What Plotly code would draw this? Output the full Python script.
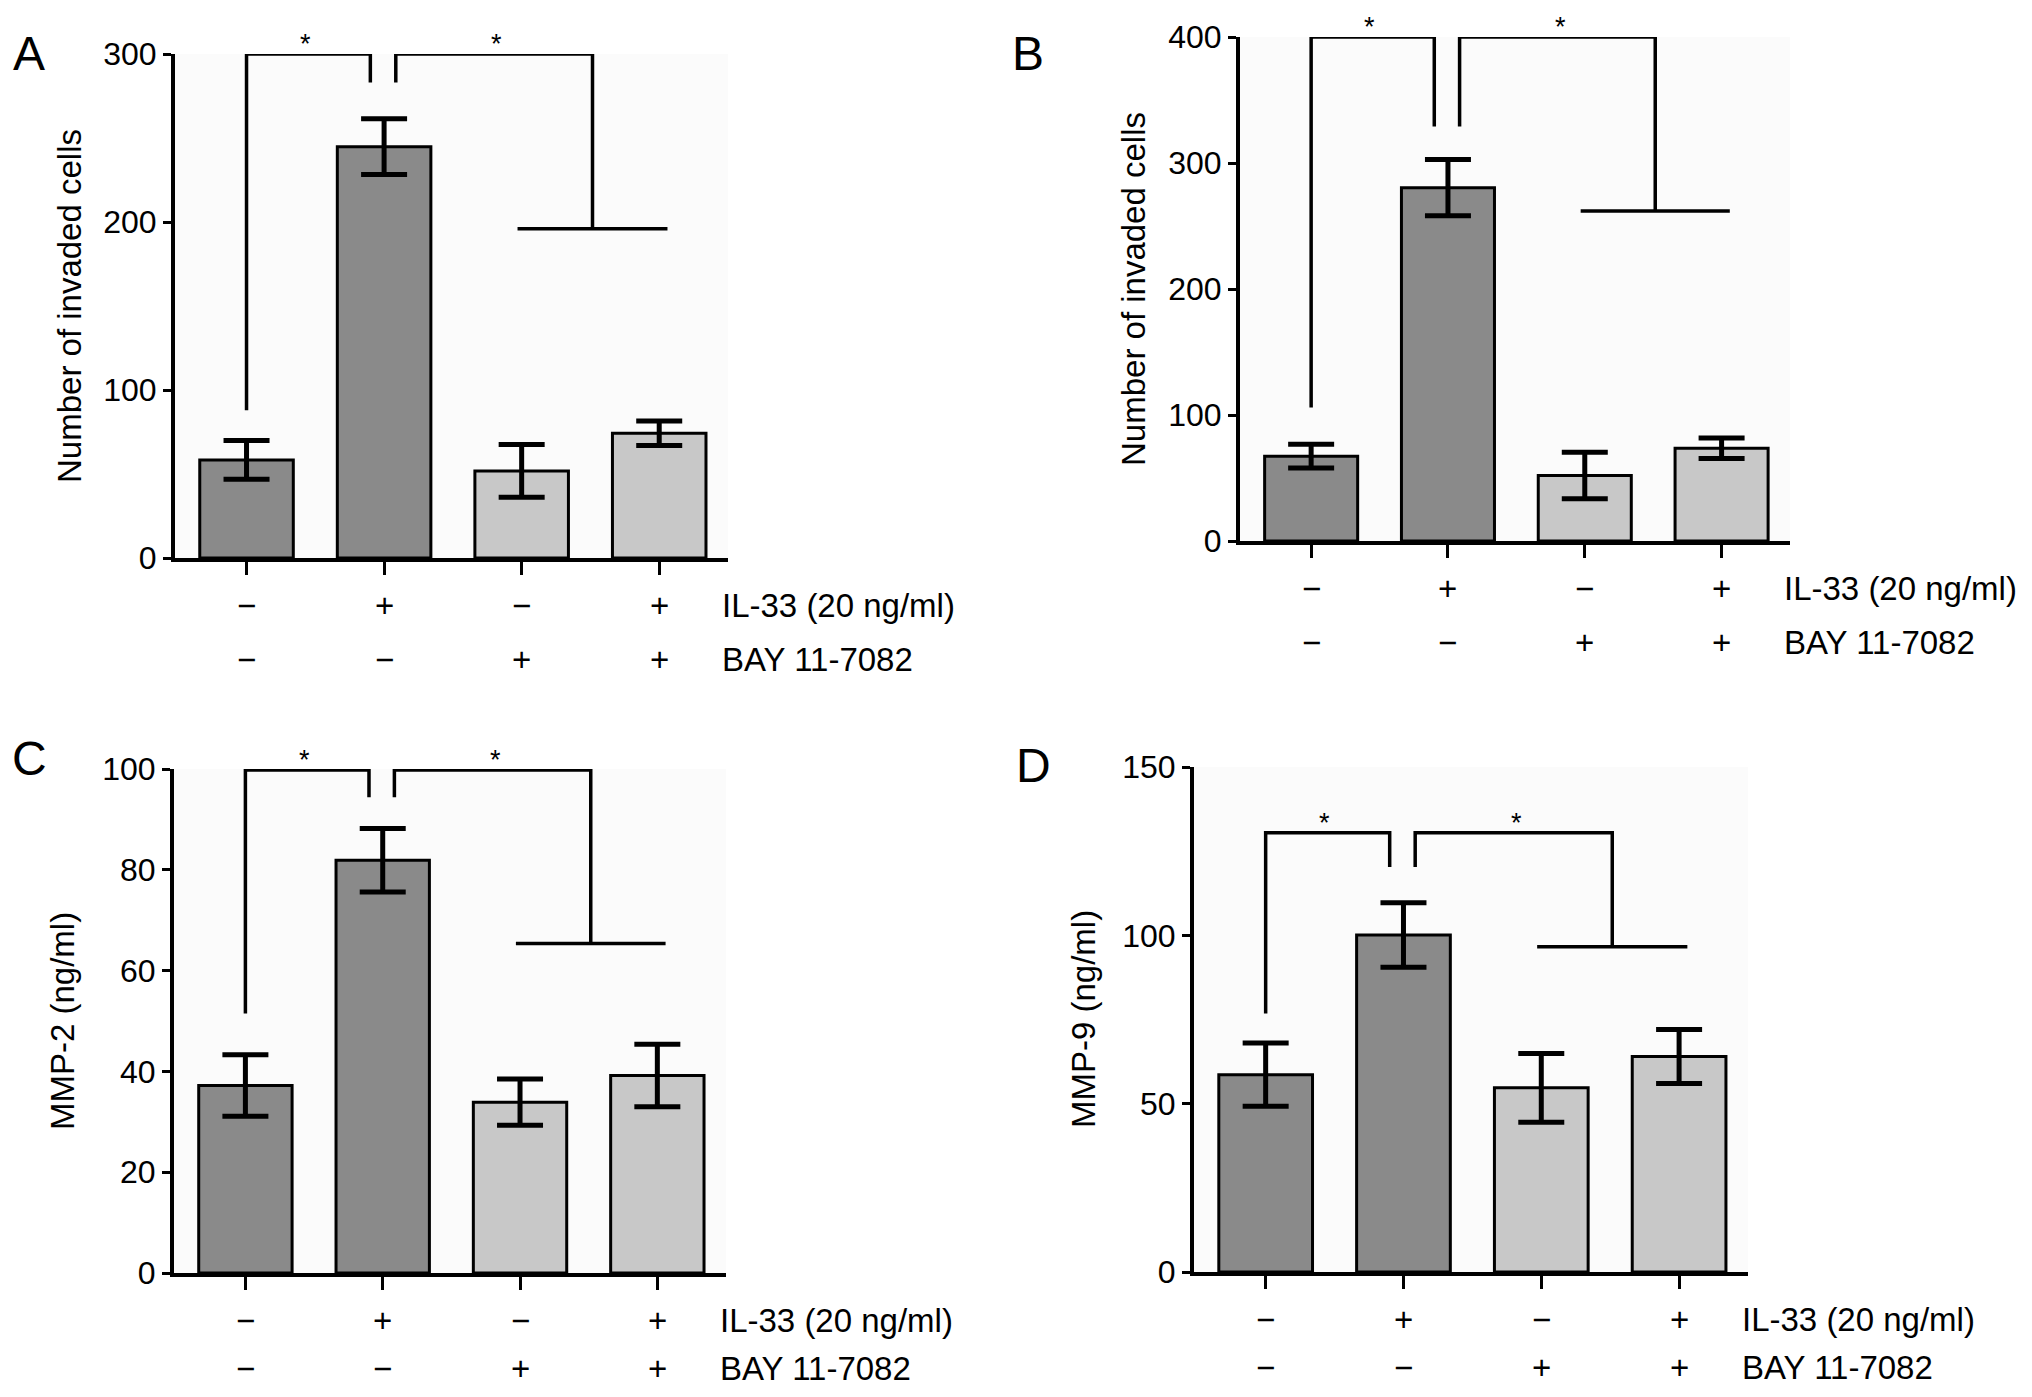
import plotly.graph_objects as go

# the page body adds an 8 px margin, so the figure is drawn 16 px smaller
PAGE = 8
W, H = 2032 - 2 * PAGE, 1397 - 2 * PAGE

x_pos = [1, 2, 3, 4]
il33_signs = ["−", "+", "−", "+"]
bay_signs = ["−", "−", "+", "+"]
row_labels = ["IL-33 (20 ng/ml)", "BAY 11-7082"]
bar_colors = ["#8a8a8a", "#8a8a8a", "#c8c8c8", "#c8c8c8"]

# A, B: invaded cells; C: MMP-2; D: MMP-9  (mean, error)
a_mean = [58.4, 244.8, 51.8, 74.3]
a_err = [11.5, 16.6, 15.7, 7.3]
b_mean = [67.3, 280.4, 52.0, 73.6]
b_err = [9.4, 22.3, 18.5, 8.1]
c_mean = [37.2, 81.9, 33.9, 39.2]
c_err = [6.1, 6.3, 4.6, 6.2]
d_mean = [58.6, 100.1, 54.7, 64.0]
d_err = [9.4, 9.6, 10.2, 8.0]

# significance brackets: top, left foot, inner feet, lower bar
a_bracket = [300, 88, 283, 196]
b_bracket = [400, 106, 329, 262]
c_bracket = [99.8, 51.5, 94.4, 65.4]
d_bracket = [130.5, 76.8, 120.3, 96.6]

y_max = [300, 400, 100, 150]
y_dtick = [100, 100, 20, 50]
y_titles = ["Number of invaded cells", "Number of invaded cells",
            "MMP-2 (ng/ml)", "MMP-9 (ng/ml)"]
letters = ["A", "B", "C", "D"]

FONT = "Liberation Sans, Arial, Helvetica, sans-serif"


def px_x(v):
    return (v - PAGE) / W


def px_y(v):
    return 1 - (v - PAGE) / H


# window pixel boxes of each plot area (left, right, top, bottom), title centre,
# letter centre, offsets of the two +/- rows below the x axis
panels = [
    (a_mean, a_err, a_bracket, (175, 728, 54, 558), (70, 306), (29, 54), (-47, -101)),
    (b_mean, b_err, b_bracket, (1240, 1790, 37, 541), (1133, 289), (1028, 54), (-47, -101)),
    (c_mean, c_err, c_bracket, (174, 726, 769, 1273), (63, 1021), (29, 758), (-47, -95)),
    (d_mean, d_err, d_bracket, (1194, 1748, 767, 1272), (1083, 1019), (1033, 765), (-47, -95)),
]

fig = go.Figure()
annotations = []
layout_axes = {}

for i, (mean, err, br, box, tpos, lpos, rows) in enumerate(panels):
    n = "" if i == 0 else str(i + 1)
    xa, ya = "x" + n, "y" + n
    left, right, top, bottom = box

    fig.add_trace(go.Bar(
        x=x_pos, y=mean, xaxis=xa, yaxis=ya, width=0.68,
        marker=dict(color=bar_colors, line=dict(color="black", width=3)),
        error_y=dict(type="data", array=err, color="black", thickness=5, width=23),
        showlegend=False, hoverinfo="y",
    ))

    top_y, foot, inner, low = br
    fig.add_trace(go.Scatter(
        x=[1, 1, 1.9, 1.9, None, 2.085, 2.085, 3.515, 3.515, None, 2.97, 4.06],
        y=[foot, top_y, top_y, inner, None, inner, top_y, top_y, low, None, low, low],
        xaxis=xa, yaxis=ya, mode="lines", cliponaxis=False,
        line=dict(color="black", width=3.5), showlegend=False, hoverinfo="skip",
    ))

    for sx in (1.43, 2.82):
        annotations.append(dict(
            x=sx, y=top_y, xref=xa, yref=ya, text="*", showarrow=False,
            xanchor="center", yanchor="middle", yshift=10,
            font=dict(size=27, color="black", family=FONT),
        ))

    for j in range(4):
        for sign, shift in ((il33_signs[j], rows[0]), (bay_signs[j], rows[1])):
            annotations.append(dict(
                x=x_pos[j], y=0, xref=xa, yref=ya, text=sign, showarrow=False,
                xanchor="center", yanchor="middle", yshift=shift,
                font=dict(size=33, color="black", family=FONT),
            ))
    for label, shift in zip(row_labels, rows):
        annotations.append(dict(
            x=1, y=0, xref=xa + " domain", yref=ya, text=label, showarrow=False,
            xanchor="left", yanchor="middle", xshift=-8, yshift=shift,
            font=dict(size=33, color="black", family=FONT),
        ))

    annotations.append(dict(
        x=px_x(tpos[0]), y=px_y(tpos[1]), xref="paper", yref="paper",
        text=y_titles[i], textangle=-90, showarrow=False,
        xanchor="center", yanchor="middle",
        font=dict(size=33, color="black", family=FONT),
    ))
    annotations.append(dict(
        x=px_x(lpos[0]), y=px_y(lpos[1]), xref="paper", yref="paper",
        text=letters[i], showarrow=False, xanchor="center", yanchor="middle",
        font=dict(size=48, color="black", family=FONT),
    ))

    layout_axes["xaxis" + n] = dict(
        domain=[px_x(left), px_x(right)], anchor=ya, range=[0.48, 4.5],
        showline=True, linecolor="black", linewidth=4, ticks="outside",
        ticklen=13, tickwidth=3, tickcolor="black", tickvals=x_pos,
        showticklabels=False, showgrid=False, zeroline=False, automargin=False,
    )
    layout_axes["yaxis" + n] = dict(
        domain=[px_y(bottom), px_y(top)], anchor=xa, range=[0, y_max[i]],
        showline=True, linecolor="black", linewidth=4, ticks="outside",
        ticklen=8, tickwidth=3, tickcolor="black", dtick=y_dtick[i],
        tickfont=dict(size=32, color="black", family=FONT),
        showgrid=False, zeroline=False, automargin=False,
    )

fig.update_layout(
    template="none",
    width=W, height=H, autosize=False,
    margin=dict(l=0, r=0, t=0, b=0, pad=0),
    paper_bgcolor="white", plot_bgcolor="#fbfbfb",
    font=dict(family=FONT, color="black"),
    annotations=annotations, showlegend=False,
    **layout_axes,
)

fig.write_html("out.html")
